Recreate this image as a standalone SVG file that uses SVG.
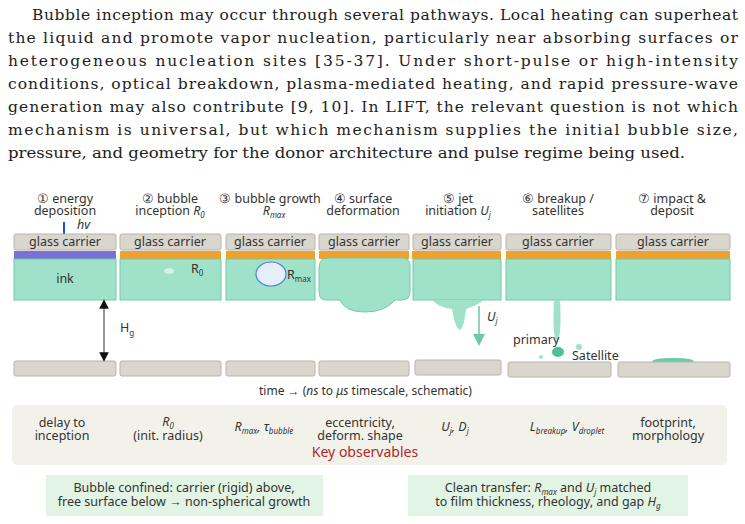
<svg xmlns="http://www.w3.org/2000/svg" width="745" height="524" viewBox="0 0 745 524">
<defs>
<style>
.p{font-family:"DejaVu Serif","Liberation Serif",serif;font-size:15.5px;fill:#222}
.t{font-family:"Noto Sans","Open Sans",sans-serif;font-size:12.5px;fill:#333}
.h{font-family:"Noto Sans","Open Sans",sans-serif;font-size:12.5px;fill:#333;text-anchor:middle}
.s{font-size:8px}
.car{fill:#d9d6ce;stroke:#b8b4aa;stroke-width:1}
.or{fill:#f0a02c}
.ink{fill:#a0e1ca;stroke:#72caa8;stroke-width:1}
.jet{fill:#a0e1ca}
</style>
<marker id="ah" markerWidth="8" markerHeight="8" refX="4" refY="4" orient="auto-start-reverse"><path d="M0,0L8,4L0,8z" fill="#111"/></marker>
<marker id="ag" markerWidth="8" markerHeight="8" refX="4" refY="4" orient="auto"><path d="M0,0L8,4L0,8z" fill="#6cc9a5"/></marker>
</defs>
<rect width="745" height="524" fill="#fff"/>
<g id="paragraph">
<text class="p" x="32" y="20" textLength="706" lengthAdjust="spacing">Bubble inception may occur through several pathways. Local heating can superheat</text>
<text class="p" x="8" y="43" textLength="730" lengthAdjust="spacing">the liquid and promote vapor nucleation, particularly near absorbing surfaces or</text>
<text class="p" x="8" y="66" textLength="730" lengthAdjust="spacing">heterogeneous nucleation sites [35-37]. Under short-pulse or high-intensity</text>
<text class="p" x="8" y="89" textLength="730" lengthAdjust="spacing">conditions, optical breakdown, plasma-mediated heating, and rapid pressure-wave</text>
<text class="p" x="8" y="112" textLength="730" lengthAdjust="spacing">generation may also contribute [9, 10]. In LIFT, the relevant question is not which</text>
<text class="p" x="8" y="135" textLength="730" lengthAdjust="spacing">mechanism is universal, but which mechanism supplies the initial bubble size,</text>
<text class="p" x="8" y="158" textLength="677" lengthAdjust="spacingAndGlyphs">pressure, and geometry for the donor architecture and pulse regime being used.</text>
</g>
<g id="headers">
<text class="h" x="65" y="203">① energy</text><text class="h" x="65" y="215">deposition</text>
<text class="h" x="170" y="203">② bubble</text><text class="h" x="170" y="215">inception <tspan font-style="italic">R</tspan><tspan class="s" dy="3" font-style="italic">0</tspan></text>
<text class="h" x="270" y="203">③ bubble growth</text><text class="h" x="274" y="215" font-style="italic">R<tspan class="s" dy="3">max</tspan></text>
<text class="h" x="363" y="203">④ surface</text><text class="h" x="363" y="215">deformation</text>
<text class="h" x="458" y="203">⑤ jet</text><text class="h" x="458" y="215">initiation <tspan font-style="italic">U</tspan><tspan class="s" dy="3" font-style="italic">j</tspan></text>
<text class="h" x="558" y="203">⑥ breakup /</text><text class="h" x="558" y="215">satellites</text>
<text class="h" x="672" y="203">⑦ impact &amp;</text><text class="h" x="672" y="215">deposit</text>
</g>
<g id="panel1">
<line x1="64" y1="222" x2="64" y2="234" stroke="#2050d0" stroke-width="2"/>
<text class="t" x="77" y="229" font-style="italic">hv</text>
<rect class="car" x="14" y="234" width="102" height="16" rx="2"/>
<rect x="14" y="251" width="102" height="8" fill="#7b70d8"/>
<rect class="ink" x="14" y="259" width="102" height="41"/>
<text class="t" x="65" y="283" text-anchor="middle">ink</text>
<rect class="car" x="14" y="361" width="102" height="15" rx="2"/>
<text class="t" x="65" y="246" text-anchor="middle">glass carrier</text>
</g>
<g id="panel2">
<rect class="car" x="120" y="234" width="101" height="16" rx="2"/>
<text class="t" x="170" y="246" text-anchor="middle">glass carrier</text>
<rect class="or" x="120" y="251" width="101" height="8"/>
<rect class="ink" x="120" y="259" width="101" height="41"/>
<ellipse cx="169" cy="271" rx="5" ry="3" fill="#d2f2e6"/>
<text class="t" x="191" y="273">R<tspan class="s" dy="3">0</tspan></text>
<rect class="car" x="120" y="361" width="101" height="15" rx="2"/>
</g>
<g id="panel3">
<rect class="car" x="226" y="234" width="89" height="16" rx="2"/>
<text class="t" x="270" y="246" text-anchor="middle">glass carrier</text>
<rect class="or" x="226" y="251" width="89" height="8"/>
<rect class="ink" x="226" y="259" width="89" height="41"/>
<ellipse cx="271" cy="274" rx="15" ry="12" fill="#e6eefa" stroke="#4a80d8" stroke-width="1.2"/>
<text class="t" x="287" y="279">R<tspan class="s" dy="3">max</tspan></text>
<rect class="car" x="226" y="361" width="89" height="15" rx="2"/>
</g>
<g id="panel4">
<rect class="car" x="319" y="234" width="90" height="16" rx="2"/>
<text class="t" x="364" y="246" text-anchor="middle">glass carrier</text>
<rect class="or" x="319" y="251" width="90" height="8"/>
<path class="ink" d="M328,258 H402 Q410,258 410,266 V292 Q410,300 402,300 H395 Q385,312 365,312 Q345,312 340,300 H326 Q319,300 319,292 V268 Q319,258 328,258 Z"/>
<rect class="car" x="319" y="361" width="90" height="15" rx="2"/>
</g>
<g id="panel5">
<rect class="car" x="413" y="234" width="88" height="16" rx="2"/>
<text class="t" x="457" y="246" text-anchor="middle">glass carrier</text>
<rect class="or" x="412" y="251" width="89" height="8"/>
<rect class="ink" x="413" y="259" width="88" height="41"/>
<path class="jet" d="M432,300 Q440,308 452,309 Q455,328 460,330 Q464,328 466,309 Q476,306 484,300 Z"/>
<line x1="479" y1="306" x2="479" y2="340" stroke="#6cc9a5" stroke-width="1.5" marker-end="url(#ag)"/>
<text class="t" x="487" y="321" font-style="italic">U<tspan class="s" dy="3">j</tspan></text>
<rect class="car" x="415" y="360" width="86" height="15" rx="2"/>
</g>
<g id="panel6">
<rect class="car" x="506" y="234" width="105" height="16" rx="2"/>
<text class="t" x="558" y="246" text-anchor="middle">glass carrier</text>
<rect class="or" x="506" y="251" width="105" height="8"/>
<rect class="ink" x="506" y="259" width="105" height="41"/>
<path class="jet" d="M554,300 Q552,335 557,343 Q562,335 560,300 Z"/>
<text class="t" x="513" y="344">primary</text>
<ellipse cx="558" cy="352" rx="6" ry="5" fill="#4dbf95"/>
<circle cx="579" cy="347" r="3" fill="#a0e1ca"/>
<circle cx="541" cy="357" r="2" fill="#a0e1ca"/>
<text class="t" x="572" y="360">Satellite</text>
<rect class="car" x="508" y="362" width="103" height="15" rx="2"/>
</g>
<g id="panel7">
<rect class="car" x="616" y="234" width="114" height="16" rx="2"/>
<text class="t" x="673" y="246" text-anchor="middle">glass carrier</text>
<rect class="or" x="616" y="251" width="114" height="8"/>
<rect class="ink" x="616" y="259" width="114" height="41"/>
<path d="M652,362 Q652,358 673,358 Q694,358 694,362 Z" fill="#6cc9a5"/>
<rect class="car" x="618" y="362" width="112" height="15" rx="2"/>
</g>
<g id="connectors">
<line x1="104" y1="304" x2="104" y2="357" stroke="#555" stroke-width="1.2" marker-start="url(#ah)" marker-end="url(#ah)"/>
<text class="t" x="120" y="332">H<tspan class="s" dy="4">g</tspan></text>
</g>
<g id="time"><text class="t" x="259" y="395" style="font-size:12px">time →   (<tspan font-style="italic">ns</tspan> to <tspan font-style="italic">μs</tspan> timescale, schematic)</text></g>
<g id="observables">
<rect x="12" y="405" width="715" height="60" rx="5" fill="#f3f2ea"/>
<text class="h" x="62" y="427">delay to</text><text class="h" x="62" y="440">inception</text>
<text class="h" x="168" y="426" font-style="italic">R<tspan class="s" dy="3">0</tspan></text><text class="h" x="168" y="440">(init. radius)</text>
<text class="h" x="264" y="431" font-style="italic">R<tspan class="s" dy="3">max</tspan><tspan dy="-3">,  τ</tspan><tspan class="s" dy="3">bubble</tspan></text>
<text class="h" x="360" y="427">eccentricity,</text><text class="h" x="360" y="440">deform. shape</text>
<text class="h" x="455" y="431" font-style="italic">U<tspan class="s" dy="3">j</tspan><tspan dy="-3">, D</tspan><tspan class="s" dy="3">j</tspan></text>
<text class="h" x="567" y="431" font-style="italic">L<tspan class="s" dy="3">breakup</tspan><tspan dy="-3">, V</tspan><tspan class="s" dy="3">droplet</tspan></text>
<text class="h" x="668" y="427">footprint,</text><text class="h" x="668" y="440">morphology</text>
<text class="h" x="365" y="457" style="fill:#b02828;font-size:14px">Key observables</text>
</g>
<g id="note-left">
<rect x="46" y="475" width="277" height="41" fill="#e2f4e4"/>
<text class="h" x="184" y="492">Bubble confined: carrier (rigid) above,</text>
<text class="h" x="184" y="506">free surface below → non-spherical growth</text>
</g>
<g id="note-right">
<rect x="408" y="475" width="280" height="41" fill="#e2f4e4"/>
<text class="h" x="548" y="492">Clean transfer: <tspan font-style="italic">R</tspan><tspan class="s" font-style="italic" dy="3">max</tspan><tspan dy="-3"> and </tspan><tspan font-style="italic">U</tspan><tspan class="s" font-style="italic" dy="3">j</tspan><tspan dy="-3"> matched</tspan></text>
<text class="h" x="548" y="506">to film thickness, rheology, and gap <tspan font-style="italic">H</tspan><tspan class="s" font-style="italic" dy="3">g</tspan></text>
</g>
</svg>
